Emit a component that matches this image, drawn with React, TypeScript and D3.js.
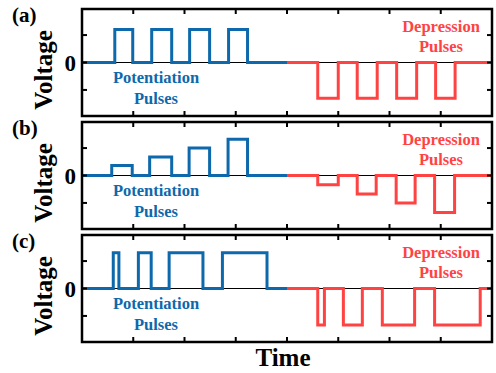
import React from "react";
import * as d3 from "d3";

// Pulse trains: [start time, end time, amplitude]
const potentiationA = [
  [0.64, 0.99, 1.2],
  [1.36, 1.75, 1.2],
  [2.1, 2.49, 1.2],
  [2.86, 3.23, 1.2],
];
const depressionA = [
  [4.6, 5.0, -1.3],
  [5.37, 5.76, -1.3],
  [6.14, 6.53, -1.3],
  [6.9, 7.28, -1.3],
];
const potentiationB = [
  [0.58, 0.98, 0.36],
  [1.32, 1.75, 0.67],
  [2.09, 2.49, 1.0],
  [2.85, 3.23, 1.32],
];
const depressionB = [
  [4.6, 5.0, -0.34],
  [5.37, 5.74, -0.67],
  [6.13, 6.5, -1.0],
  [6.88, 7.27, -1.35],
];
const potentiationC = [
  [0.61, 0.72, 1.3],
  [1.1, 1.35, 1.3],
  [1.7, 2.36, 1.3],
  [2.74, 3.61, 1.3],
];
const depressionC = [
  [4.6, 4.73, -1.33],
  [5.1, 5.47, -1.33],
  [5.86, 6.49, -1.33],
  [6.88, 7.77, -1.33],
];

const panelLabels = ["(a)", "(b)", "(c)"];
const xTicks = [1, 2, 3, 4, 5, 6, 7];
const yTicks = [-1, 0, 1];
const potentiationRange = [0, 4];
const depressionRange = [4, 8];

const panels = [
  { label: panelLabels[0], pot: potentiationA, dep: depressionA },
  { label: panelLabels[1], pot: potentiationB, dep: depressionB },
  { label: panelLabels[2], pot: potentiationC, dep: depressionC },
];

const BLUE = "#0d69ab";
const RED = "#ff4343";
const serif: React.CSSProperties = {
  fontFamily: "'Liberation Serif'",
  fontWeight: 700,
};

const W = 496;
const H = 373;
const left = 82;
const right = 492;
const panelTops = [9, 122, 235];
const panelH = 107;

function trainPoints(pulses: number[][], range: number[]): [number, number][] {
  const pts: [number, number][] = [[range[0], 0]];
  pulses.forEach(([t0, t1, v]) => {
    pts.push([t0, 0], [t0, v], [t1, v], [t1, 0]);
  });
  pts.push([range[1], 0]);
  return pts;
}

function Panel({ top, label, pot, dep }: any) {
  const x = d3.scaleLinear().domain([0, 8]).range([left, right]);
  const y = d3.scaleLinear().domain([-1.95, 1.95]).range([top + panelH, top]);
  const line = d3
    .line<[number, number]>()
    .x((d) => x(d[0]))
    .y((d) => y(d[1]));
  const y0 = y(0);
  const tick = 5;
  return (
    <g>
      <line x1={left} x2={right} y1={y0} y2={y0} stroke="#000" strokeWidth={1} />
      <path d={line(trainPoints(pot, potentiationRange)) || ""} fill="none" stroke={BLUE} strokeWidth={3} />
      <path d={line(trainPoints(dep, depressionRange)) || ""} fill="none" stroke={RED} strokeWidth={3} />
      {xTicks.map((t) => (
        <g key={"x" + t}>
          <line x1={x(t)} x2={x(t)} y1={top} y2={top + tick} stroke="#000" strokeWidth={2} />
          <line x1={x(t)} x2={x(t)} y1={top + panelH} y2={top + panelH - tick} stroke="#000" strokeWidth={2} />
        </g>
      ))}
      {yTicks.map((t) => (
        <g key={"y" + t}>
          <line x1={left} x2={left + tick} y1={y(t)} y2={y(t)} stroke="#000" strokeWidth={2} />
          <line x1={right} x2={right - tick} y1={y(t)} y2={y(t)} stroke="#000" strokeWidth={2} />
        </g>
      ))}
      <rect x={left} y={top} width={right - left} height={panelH} fill="none" stroke="#000" strokeWidth={2.5} />
      <text x={76} y={y0 + 8} textAnchor="end" style={{ ...serif, fontSize: 23 }}>
        0
      </text>
      <text x={12} y={top + 13} style={{ ...serif, fontSize: 21 }}>
        {label}
      </text>
      <text
        transform={`translate(52,${top + panelH / 2 + 7.5}) rotate(-90)`}
        textAnchor="middle"
        style={{ ...serif, fontSize: 25 }}
      >
        Voltage
      </text>
      <g fill={BLUE} textAnchor="middle" style={{ ...serif, fontSize: 16.5 }}>
        <text x={156} y={y0 + 20.5}>Potentiation</text>
        <text x={156} y={y0 + 41}>Pulses</text>
      </g>
      <g fill={RED} textAnchor="middle" style={{ ...serif, fontSize: 16.5 }}>
        <text x={441} y={y0 - 31}>Depression</text>
        <text x={441} y={y0 - 11}>Pulses</text>
      </g>
    </g>
  );
}

export default function App() {
  return (
    <svg
      width={W}
      height={H}
      viewBox={`0 0 ${W} ${H}`}
      style={{ position: "absolute", left: 0, top: 0, background: "#fff" }}
    >
      {panels.map((p, i) => (
        <Panel key={i} top={panelTops[i]} label={p.label} pot={p.pot} dep={p.dep} />
      ))}
      <text x={283} y={366} textAnchor="middle" style={{ ...serif, fontSize: 25 }}>
        Time
      </text>
    </svg>
  );
}
